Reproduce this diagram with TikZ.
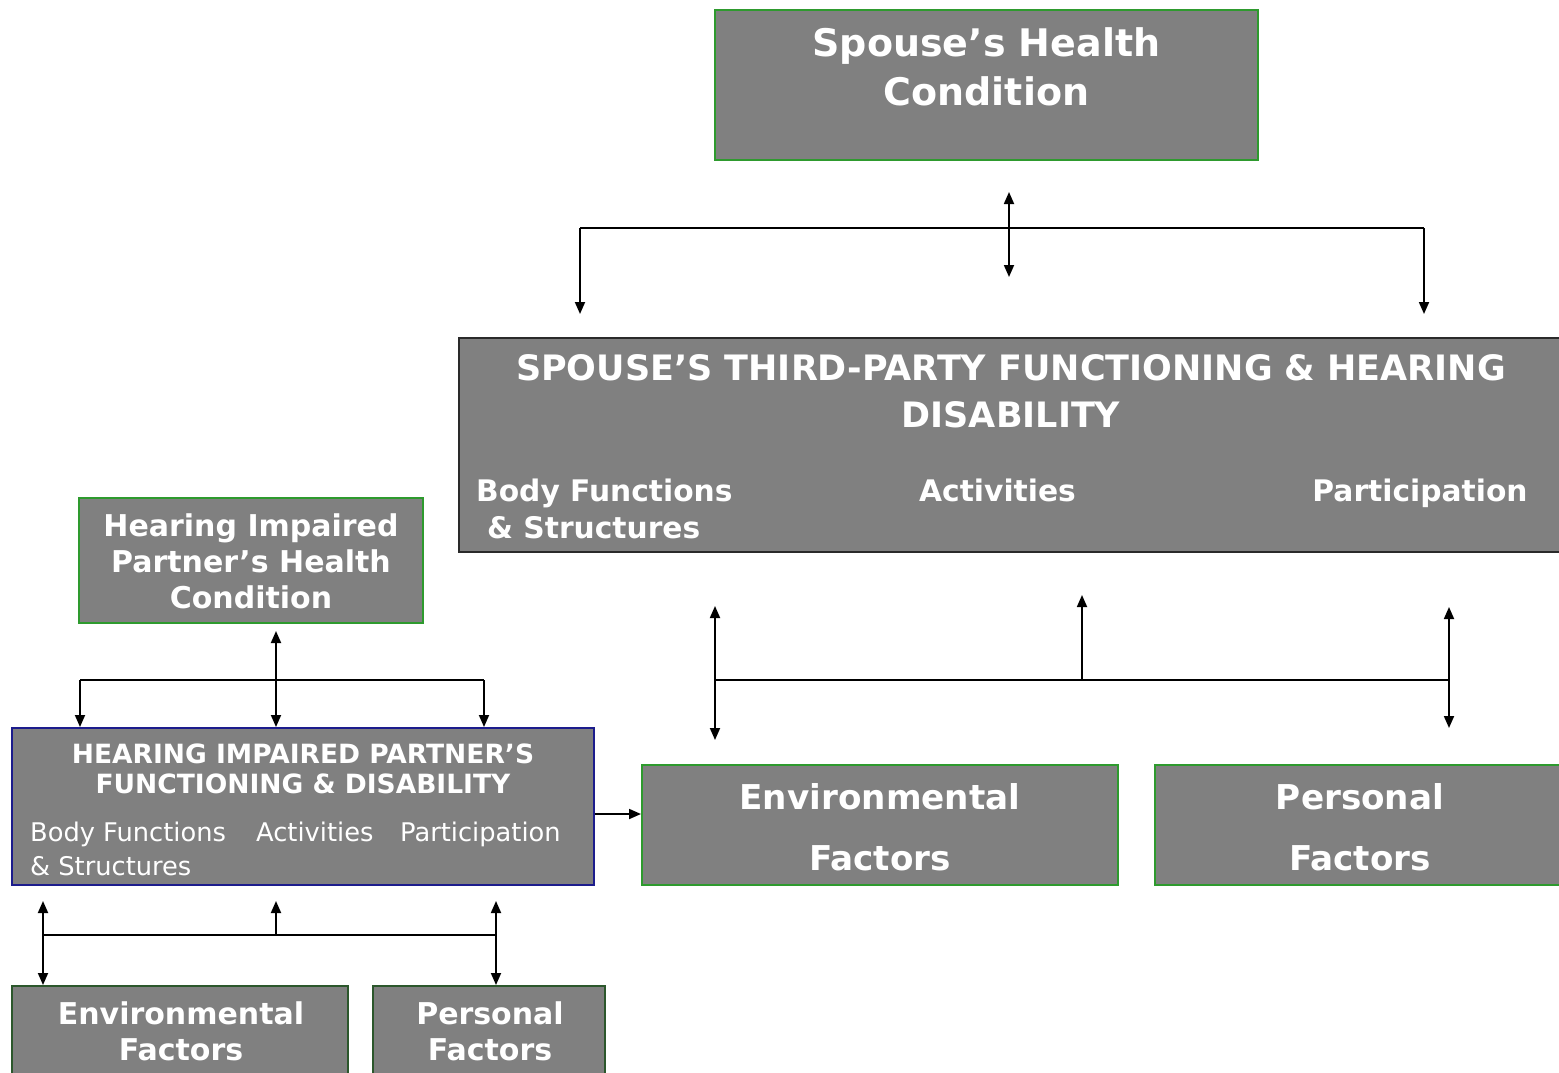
\documentclass[tikz,border=0pt]{standalone}
\usepackage{fontspec}
\setmainfont{DejaVu Sans}
\usetikzlibrary{arrows.meta}
\definecolor{boxgray}{HTML}{808080}
\definecolor{boxgreen}{HTML}{2E9A2E}
\definecolor{boxnavy}{HTML}{1C1C8C}
\definecolor{boxdark}{HTML}{2A2A2A}
\begin{document}
\begin{tikzpicture}[x=1pt,y=-1pt,
  gbox/.style={draw=boxgreen,fill=boxgray,line width=2pt,inner sep=0pt,rectangle},
  wtext/.style={text=white,inner sep=0pt,font=\bfseries,align=center},
  ltext/.style={text=white,inner sep=0pt,align=left},
  conn/.style={line width=1.8pt,draw=black},
  tip/.style={-{Triangle[length=12pt,width=10pt]}},
  dtip/.style={{Triangle[length=12pt,width=10pt]}-{Triangle[length=12pt,width=10pt]}}
]
\useasboundingbox (0,0) rectangle (1559,1072);
\clip (0,0) rectangle (1559,1072);
\fill[white] (0,0) rectangle (1559,1072);

% boxes
\node[gbox,minimum width=543pt,minimum height=150pt] (shc) at (986.5,85) {};
\node[gbox,draw=boxdark,minimum width=1121pt,minimum height=214pt] (stp) at (1019.5,445) {};
\node[gbox,minimum width=344pt,minimum height=125pt] (hhc) at (251,560.5) {};
\node[gbox,draw=boxnavy,minimum width=582pt,minimum height=157pt] (hfd) at (303,806.5) {};
\node[gbox,minimum width=476pt,minimum height=120pt] (envR) at (880,825) {};
\node[gbox,minimum width=415pt,minimum height=120pt] (perR) at (1362.5,825) {};
\node[gbox,draw=boxdark!60!boxgreen,minimum width=336pt,minimum height=94pt] (envL) at (180,1033) {};
\node[gbox,draw=boxdark!60!boxgreen,minimum width=232pt,minimum height=94pt] (perL) at (489,1033) {};

% texts
\node[wtext,font=\bfseries\fontsize{38}{49}\selectfont] (shcT) at (986.5,67) {Spouse’s Health\\Condition};
\node[wtext,font=\bfseries\fontsize{35}{47}\selectfont] (stpT) at (1011,391) {SPOUSE’S THIRD-PARTY FUNCTIONING \& HEARING\\DISABILITY};
\node[ltext,font=\bfseries\fontsize{29.7}{37}\selectfont,anchor=base west] (stpB) at (476,538) {Body Functions\\\hspace{11pt}\& Structures};
\node[wtext,font=\bfseries\fontsize{29.7}{37}\selectfont,anchor=base] (stpA) at (997.5,501) {Activities};
\node[wtext,font=\bfseries\fontsize{29.7}{37}\selectfont,anchor=base] (stpP) at (1420,501) {Participation};
\node[wtext,font=\bfseries\fontsize{30}{36}\selectfont] (hhcT) at (251,561) {Hearing Impaired\\Partner’s Health\\Condition};
\node[wtext,font=\bfseries\fontsize{26.5}{30}\selectfont] (hfdT) at (303,769) {HEARING IMPAIRED PARTNER’S\\FUNCTIONING \& DISABILITY};
\node[ltext,font=\fontsize{25.7}{34}\selectfont,anchor=base west] (hfdB) at (30,875) {Body Functions\\\& Structures};
\node[ltext,font=\fontsize{25.7}{34}\selectfont,anchor=base west] (hfdA) at (256,841) {Activities};
\node[ltext,font=\fontsize{25.7}{34}\selectfont,anchor=base west] (hfdP) at (400,841) {Participation};
\node[wtext,font=\bfseries\fontsize{34.2}{61}\selectfont] (envRT) at (880,827.5) {Environmental\\Factors};
\node[wtext,font=\bfseries\fontsize{34.2}{61}\selectfont] (perRT) at (1360,827.5) {Personal\\Factors};
\node[wtext,font=\bfseries\fontsize{30}{36}\selectfont] (envLT) at (181,1031) {Environmental\\Factors};
\node[wtext,font=\bfseries\fontsize{30}{36}\selectfont] (perLT) at (490,1031) {Personal\\Factors};

% top connector group
\coordinate (a1) at (1009,192);
\coordinate (a2) at (1009,277);
\coordinate (j1) at (580,228);
\coordinate (j2) at (1424,228);
\coordinate (d1) at (580,314);
\coordinate (d2) at (1424,314);
\draw[conn,dtip] (a1) -- (a2);
\draw[conn,tip] (d1 |- j1) -- (d1);
\draw[conn] (j1) -- (j2);
\draw[conn,tip] (j2) -- (d2);

% middle right connector group
\coordinate (m1t) at (715,606);
\coordinate (m1b) at (715,740);
\coordinate (mj1) at (715,680);
\coordinate (mj2) at (1449,680);
\coordinate (m2t) at (1082,595);
\coordinate (m2b) at (1082,680);
\coordinate (m3t) at (1449,607);
\coordinate (m3b) at (1449,728);
\draw[conn,dtip] (m1t) -- (m1b);
\draw[conn] (mj1) -- (mj2);
\draw[conn,tip] (m2b) -- (m2t);
\draw[conn,dtip] (m3t) -- (m3b);

% left upper group
\coordinate (l1t) at (276,631);
\coordinate (lj1) at (80,680);
\coordinate (lj2) at (484,680);
\draw[conn,dtip] (l1t) -- (l1t |- hfd.north);
\draw[conn] (lj1) -- (lj2);
\draw[conn,tip] (lj1) -- (lj1 |- hfd.north);
\draw[conn,tip] (lj2) -- (lj2 |- hfd.north);

% left lower group
\coordinate (b1t) at (43,901);
\coordinate (b2t) at (276,901);
\coordinate (b3t) at (496,901);
\coordinate (bj1) at (43,935);
\coordinate (bj2) at (496,935);
\draw[conn,dtip] (b1t) -- (b1t |- envL.north);
\draw[conn,dtip] (b3t) -- (b3t |- perL.north);
\draw[conn] (bj1) -- (bj2);
\draw[conn,tip] (b2t |- bj1) -- (b2t);

% arrow between hfd and envR
\draw[conn,tip] (hfd.east |- 0,814) -- (envR.west |- 0,814);
\end{tikzpicture}
\end{document}
